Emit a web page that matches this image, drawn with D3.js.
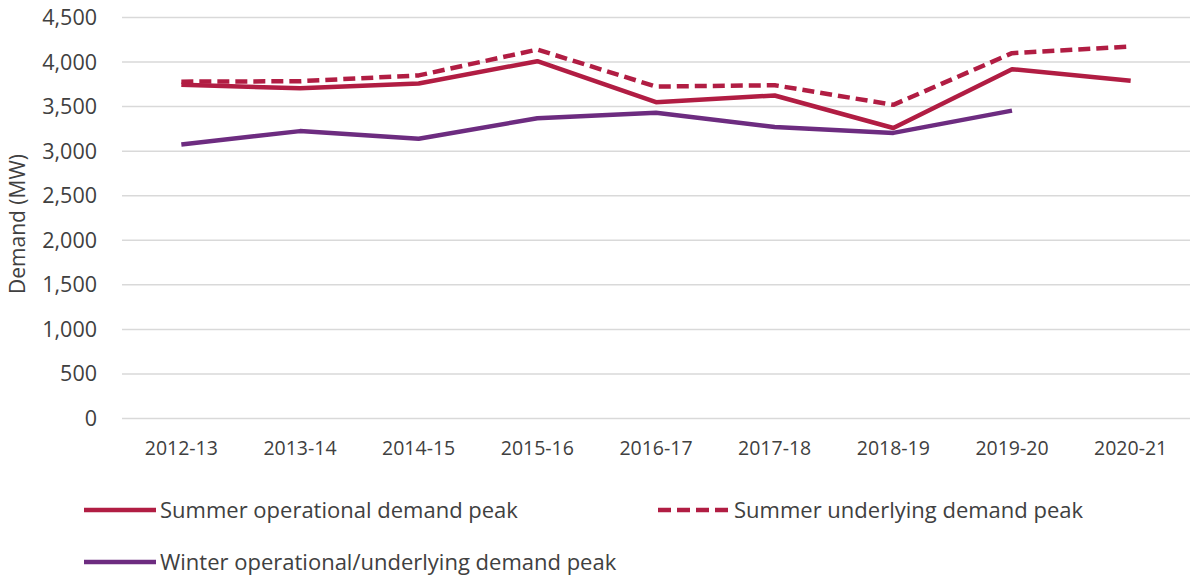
<!DOCTYPE html>
<html>
<head>
<meta charset="utf-8">
<script src="https://cdn.jsdelivr.net/npm/d3@7"></script>
<style>
  body { margin: 0; background: #fff; }
  text { font-family: "Open Sans", "Noto Sans", sans-serif; fill: #404040; }
</style>
</head>
<body>
<svg width="1190" height="578"></svg>
<script>
var years = ['2012-13', '2013-14', '2014-15', '2015-16', '2016-17', '2017-18', '2018-19', '2019-20', '2020-21'];
var summerOperational = [3745, 3705, 3760, 4010, 3550, 3625, 3260, 3920, 3790];
var summerUnderlying = [3780, 3785, 3850, 4140, 3725, 3740, 3520, 4100, 4175];
var winter = [3075, 3225, 3140, 3370, 3430, 3270, 3205, 3455, null];
var yTicks = [0, 500, 1000, 1500, 2000, 2500, 3000, 3500, 4000, 4500];

var red = '#b11d43', purple = '#6d2c80';

var series = [
  {name: 'Summer operational demand peak', values: summerOperational, color: red, dash: null},
  {name: 'Summer underlying demand peak', values: summerUnderlying, color: red, dash: '12,6'},
  {name: 'Winter operational/underlying demand peak', values: winter, color: purple, dash: null}
];

var svg = d3.select('svg');

var x = d3.scalePoint().domain(years).range([122, 1190]).padding(0.5),
    y = d3.scaleLinear().domain([0, 4500]).range([418.5, 17.5]);

// gridlines
svg.append('g').selectAll('line')
  .data(yTicks)
  .enter()
  .append('line')
  .attr('x1', 122).attr('x2', 1190)
  .attr('y1', function(d){ return y(d); })
  .attr('y2', function(d){ return y(d); })
  .attr('stroke', '#d9d9d9')
  .attr('stroke-width', 1.5);

// y labels
svg.append('g').selectAll('text')
  .data(yTicks)
  .enter()
  .append('text')
  .attr('x', 97)
  .attr('y', function(d){ return y(d) + 7.5; })
  .attr('text-anchor', 'end')
  .style('font-size', '21.5px')
  .text(d3.format(','));

// x labels
svg.append('g').selectAll('text')
  .data(years)
  .enter()
  .append('text')
  .attr('x', function(d){ return x(d); })
  .attr('y', 455)
  .attr('text-anchor', 'middle')
  .style('font-size', '19.5px')
  .text(function(d){ return d; });

svg.append('text')
  .attr('transform', 'translate(25,' + 224 + ') rotate(-90)')
  .attr('text-anchor', 'middle')
  .style('font-size', '21px')
  .text('Demand (MW)');

var line = d3.line()
  .defined(function(d){ return d != null; })
  .x(function(d, i){ return x(years[i]); })
  .y(function(d){ return y(d); });

svg.append('g').selectAll('path')
  .data(series)
  .enter()
  .append('path')
  .attr('d', function(s){ return line(s.values); })
  .attr('fill', 'none')
  .attr('stroke', function(s){ return s.color; })
  .attr('stroke-width', 4.5)
  .attr('stroke-dasharray', function(s){ return s.dash; })
  .attr('stroke-linejoin', 'round');

// legend
var legendPos = [[84, 510], [658, 510], [84, 562]];
var lg = svg.append('g').selectAll('g')
  .data(series)
  .enter()
  .append('g')
  .attr('transform', function(s, i){ return 'translate(' + legendPos[i][0] + ',' + legendPos[i][1] + ')'; });

lg.append('line')
  .attr('x1', 0).attr('x2', 72)
  .attr('stroke', function(s){ return s.color; })
  .attr('stroke-width', 4.5)
  .attr('stroke-dasharray', function(s){ return s.dash ? '13,6' : null; });

lg.append('text')
  .attr('x', 76)
  .attr('y', 8)
  .style('font-size', '22px')
  .text(function(s){ return s.name; });
</script>
</body>
</html>
